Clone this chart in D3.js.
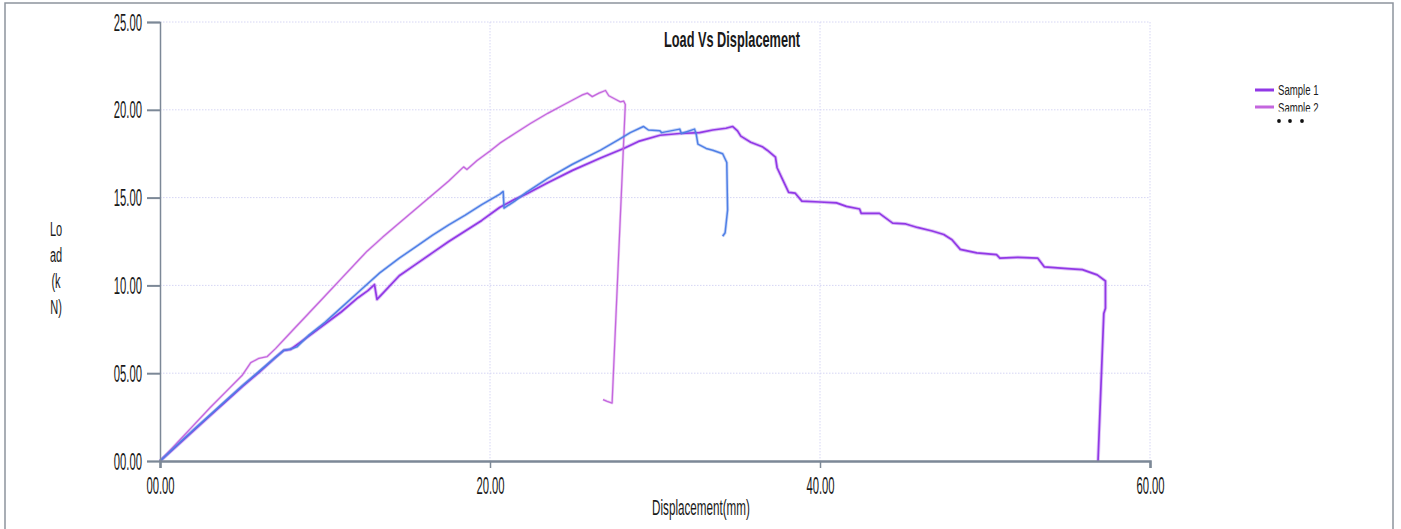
<!DOCTYPE html>
<html>
<head>
<meta charset="utf-8">
<script src="https://cdn.jsdelivr.net/npm/d3@7"></script>
<style>
  html, body { margin: 0; padding: 0; background: #fff; }
  svg { display: block; }
  text { font-family: "Liberation Sans", Arial, sans-serif; fill: #1a1a1a; }
</style>
</head>
<body>
<svg id="chart" width="1401" height="529"></svg>
<script>
// ---------- data ----------
const chartTitle = "Load Vs Displacement";
const xTitle = "Displacement(mm)";
const yTitleLines = ["Lo", "ad", "(k", "N)"];
const seriesNames = ["Sample 1", "Sample 2", "Sample 3"];
const xTickValues = [0, 20, 40, 60];
const xTickLabels = ["00.00", "20.00", "40.00", "60.00"];
const yTickValues = [0, 5, 10, 15, 20, 25];
const yTickLabels = ["00.00", "05.00", "10.00", "15.00", "20.00", "25.00"];

// [displacement mm, load kN]
const sample1 = [[0,0],[1,0.85],[2,1.7],[3,2.55],[4,3.4],[5,4.25],[6,5.05],[7,5.9],[7.5,6.3],[7.9,6.35],[8.2,6.55],[9,7.1],[10,7.8],[11,8.5],[12,9.3],[12.6,9.7],[13.0,10.05],[13.15,9.2],[13.5,9.55],[14.5,10.55],[15.5,11.2],[16.5,11.85],[17.5,12.5],[18.5,13.1],[19.5,13.7],[20.6,14.45],[21.5,14.9],[22.2,15.2],[23.5,15.85],[25,16.55],[26.7,17.25],[28.1,17.8],[29,18.2],[30.3,18.55],[31.5,18.65],[32.7,18.7],[33.5,18.85],[34.3,18.95],[34.7,19.05],[35.0,18.8],[35.2,18.5],[35.8,18.15],[36.5,17.9],[36.8,17.7],[37.3,17.3],[37.4,16.7],[37.7,16.1],[38.1,15.3],[38.5,15.25],[38.9,14.8],[40,14.75],[41,14.7],[41.6,14.5],[42.4,14.35],[42.5,14.1],[43.6,14.1],[44.4,13.55],[45.2,13.5],[45.9,13.3],[46.8,13.1],[47.5,12.9],[48.0,12.6],[48.5,12.05],[49.5,11.85],[50.7,11.75],[50.9,11.55],[52,11.6],[53.2,11.55],[53.6,11.05],[55,10.95],[55.9,10.9],[56.8,10.6],[57.3,10.25],[57.3,8.7],[57.2,8.4],[56.85,0]];
const sample2 = [[0,0],[1,1.0],[2,2.0],[3,3.0],[4,3.95],[5,4.9],[5.5,5.6],[6.0,5.85],[6.5,5.95],[7,6.4],[8,7.4],[9,8.4],[10,9.4],[11,10.4],[12,11.4],[12.55,11.95],[13.5,12.75],[14.5,13.55],[15.5,14.35],[16.5,15.15],[17.5,15.95],[18.4,16.75],[18.6,16.6],[19.2,17.1],[20,17.65],[20.6,18.1],[21.5,18.65],[22.5,19.25],[23.5,19.8],[24.5,20.3],[25.3,20.7],[25.6,20.85],[25.9,20.95],[26.2,20.75],[26.6,20.95],[27.0,21.1],[27.2,20.8],[27.6,20.6],[27.9,20.45],[28.1,20.5],[28.2,20.3],[27.4,3.3],[27.1,3.4],[26.85,3.5]];
const sample3 = [[0,0],[1,0.88],[2,1.75],[3,2.6],[4,3.45],[5,4.3],[6,5.1],[7,5.9],[7.5,6.3],[8.0,6.4],[8.3,6.5],[9,7.15],[10,7.9],[11,8.75],[12.3,9.85],[13.3,10.7],[14.5,11.55],[15.5,12.2],[16.5,12.85],[17.5,13.45],[18.5,14.0],[19.5,14.6],[20.6,15.2],[20.8,15.35],[20.85,14.4],[21.5,14.8],[22.2,15.3],[23.5,16.1],[25,16.9],[26.7,17.7],[27.8,18.3],[28.5,18.7],[29.3,19.05],[29.6,18.85],[30.3,18.8],[30.4,18.7],[31.5,18.9],[31.6,18.65],[32.4,18.9],[32.5,18.6],[32.6,18.05],[33.1,17.8],[33.5,17.7],[33.8,17.6],[34.1,17.5],[34.35,17.0],[34.4,14.3],[34.25,13.0],[34.1,12.8]];

const seriesData = [sample1, sample2, sample3];
const seriesColors = ["#9138e6", "#c466de", "#4f7fe6"];
const seriesWidths = [1.7, 1.3, 1.5];

// ---------- layout ----------
const svg = d3.select("#chart");
const plot = { left: 160, right: 1150, top: 22, bottom: 461 };
const x = d3.scaleLinear().domain([0, 60]).range([plot.left, plot.right]);
const y = d3.scaleLinear().domain([0, 25]).range([plot.bottom, plot.top]);
const axisColor = "#7c8897";
const gridColor = "#d6d6f4";

// outer frame
svg.append("rect").attr("x", 5).attr("y", 3).attr("width", 1388).attr("height", 540)
  .attr("fill", "none").attr("stroke", "#8d949d").attr("stroke-width", 1.5);

// gridlines
svg.append("g").selectAll("line").data(yTickValues.filter(d => d > 0)).join("line")
  .attr("x1", plot.left).attr("x2", plot.right)
  .attr("y1", d => y(d)).attr("y2", d => y(d))
  .attr("stroke", gridColor).attr("stroke-width", 1).attr("stroke-dasharray", "1.5,1.5");
svg.append("g").selectAll("line").data(xTickValues.filter(d => d > 0)).join("line")
  .attr("x1", d => x(d)).attr("x2", d => x(d))
  .attr("y1", plot.top).attr("y2", plot.bottom)
  .attr("stroke", gridColor).attr("stroke-width", 1).attr("stroke-dasharray", "1.5,1.5");

// title
svg.append("text").attr("transform", "translate(732,47) scale(0.58,1)")
  .attr("text-anchor", "middle").attr("font-size", 22).attr("font-weight", "bold")
  .text(chartTitle);

// series
const line = d3.line().x(d => x(d[0])).y(d => y(d[1]));
seriesData.forEach((s, i) => {
  svg.append("path").datum(s).attr("d", line)
    .attr("fill", "none").attr("stroke", seriesColors[i])
    .attr("stroke-opacity", 0.3).attr("stroke-width", seriesWidths[i] * 2.1).attr("stroke-linejoin", "round");
  svg.append("path").datum(s).attr("d", line)
    .attr("fill", "none").attr("stroke", seriesColors[i])
    .attr("stroke-width", seriesWidths[i]).attr("stroke-linejoin", "round");
});

// y axis
const yAxis = d3.axisLeft(y).tickValues(yTickValues)
  .tickFormat((d, i) => yTickLabels[i]).tickSize(13).tickPadding(5);
const gy = svg.append("g").attr("transform", `translate(${plot.left},0)`).call(yAxis);
gy.select(".domain").attr("stroke", axisColor).attr("stroke-width", 1.5);
gy.selectAll(".tick line").attr("stroke", axisColor).attr("stroke-width", 2);
gy.selectAll(".tick text").attr("x", null).attr("dy", null)
  .attr("transform", "translate(-18,8) scale(0.47,1)")
  .attr("font-size", 24).attr("fill", "#1a1a1a").attr("font-family", "Liberation Sans, Arial, sans-serif");

// x axis
const xAxis = d3.axisBottom(x).tickValues(xTickValues)
  .tickFormat((d, i) => xTickLabels[i]).tickSize(7).tickPadding(0);
const gx = svg.append("g").attr("transform", `translate(0,${plot.bottom})`).call(xAxis);
gx.select(".domain").attr("stroke", axisColor).attr("stroke-width", 2.5);
gx.selectAll(".tick line").attr("stroke", axisColor).attr("stroke-width", 1.5);
gx.selectAll(".tick text").attr("y", null).attr("dy", null)
  .attr("transform", "translate(0,33) scale(0.47,1)")
  .attr("font-size", 24).attr("fill", "#1a1a1a").attr("font-family", "Liberation Sans, Arial, sans-serif");

// axis titles
svg.append("text").attr("transform", "translate(701,515) scale(0.53,1)")
  .attr("text-anchor", "middle").attr("font-size", 22).text(xTitle);
yTitleLines.forEach((t, i) => {
  svg.append("text").attr("transform", `translate(56,${236 + i * 26}) scale(0.55,1)`)
    .attr("text-anchor", "middle").attr("font-size", 20).text(t);
});

// legend
const legend = svg.append("g");
svg.append("clipPath").attr("id", "legclip").append("rect")
  .attr("x", 1240).attr("y", 70).attr("width", 120).attr("height", 41.5);
const lg = legend.append("g").attr("clip-path", "url(#legclip)");
[0, 1].forEach(i => {
  const ly = 90 + i * 17;
  lg.append("line").attr("x1", 1255).attr("x2", 1274).attr("y1", ly).attr("y2", ly)
    .attr("stroke", seriesColors[i]).attr("stroke-width", 3);
  lg.append("text").attr("transform", `translate(1278,${ly + 5 + i * 1}) scale(0.64,1)`)
    .attr("font-size", 15).text(seriesNames[i]);
});
legend.selectAll("circle").data([1279, 1290, 1302]).join("circle")
  .attr("cx", d => d).attr("cy", 121).attr("r", 1.9).attr("fill", "#111");
</script>
</body>
</html>
